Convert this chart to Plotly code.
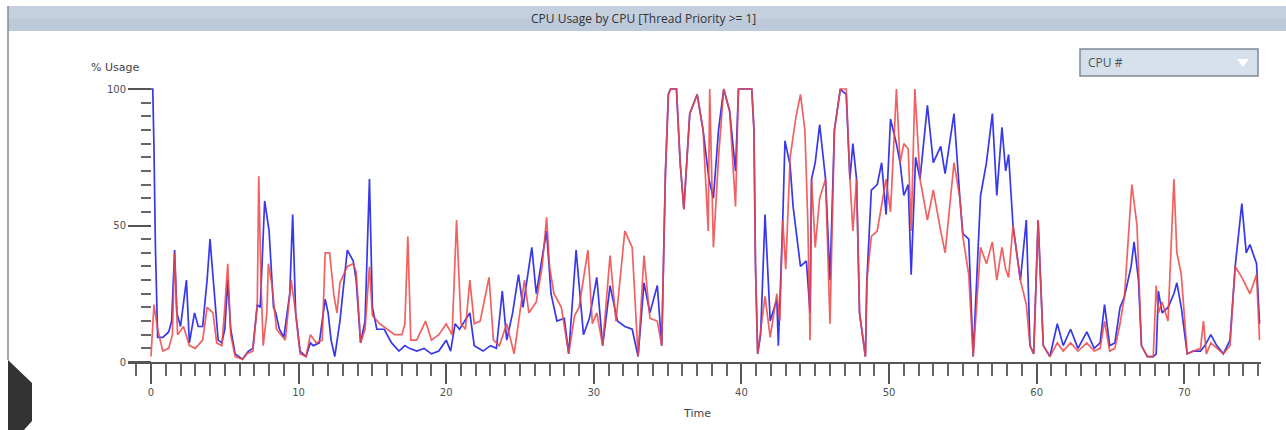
import plotly.graph_objects as go

# ---------------- data ----------------
cpu0_t = [0.0, 0.12, 0.2, 0.3, 0.45, 0.8, 1.2, 1.4, 1.6, 1.75, 2.0, 2.4, 2.6, 2.95, 3.2, 3.5, 3.8, 4.0, 4.1, 4.3,
          4.55, 4.8, 5.0, 5.2, 5.4, 5.7, 6.2, 6.6, 6.9, 7.2, 7.4, 7.7, 8.0, 8.3, 8.45, 8.7, 9.0, 9.4, 9.6, 9.8,
          10.1, 10.5, 10.8, 11.0, 11.4, 11.8, 12.0, 12.2, 12.45, 12.8, 13.3, 13.7, 13.9, 14.2, 14.5, 14.8, 15.0, 15.3, 15.8, 16.3,
          16.8, 17.2, 17.5, 18.0, 18.5, 19.0, 19.5, 20.0, 20.3, 20.6,
          20.9, 21.6, 21.9, 22.5, 23.0, 23.4, 23.8, 24.1, 24.5, 24.9, 25.2, 25.8, 26.1, 26.8, 27.1, 27.5, 28.0, 28.3, 28.8, 29.3,
          29.7, 30.2, 30.6, 31.1, 31.6, 32.1, 32.6, 33.0, 33.4, 33.8, 34.3, 34.6, 34.85, 35.05, 35.2, 35.6, 35.85, 36.1, 36.3, 36.5,
          37.0, 37.4, 37.8, 38.1, 38.45, 38.8, 39.2, 39.6, 39.8, 40.1, 40.7, 40.85, 40.95, 41.1, 41.3,
          41.6, 41.95, 42.4, 42.5, 42.8, 42.95, 43.3, 43.5, 44.0, 44.4, 44.65, 44.75, 45.0, 45.3, 45.7, 46.0, 46.3, 46.7, 47.1, 47.35,
          47.55, 47.8, 48.0, 48.4, 48.5, 48.8, 49.2, 49.5, 49.8, 50.1, 50.5, 50.75, 51.0, 51.3, 51.5, 51.8, 52.1, 52.6, 53.0, 53.5,
          53.8, 54.4, 54.8, 55.0, 55.4, 55.7, 56.2, 56.6, 57.0, 57.3, 57.65, 57.9, 58.1, 58.4, 58.9, 59.3, 59.55, 59.8, 60.1, 60.45,
          60.9, 61.4, 61.8,
          62.3, 62.8, 63.4, 63.9, 64.3, 64.6, 64.95, 65.3, 65.65, 65.95, 66.4, 66.6, 66.9, 67.1, 67.5, 67.9, 68.1, 68.25, 68.5, 68.9,
          69.3, 69.5, 69.8, 70.2, 70.6, 71.1, 71.4, 71.8, 72.2, 72.65, 73.1, 73.45, 73.9, 74.2, 74.45, 74.9, 75.1]
cpu0_v = [100, 100, 79, 42, 9, 9, 11, 15, 41, 18, 13, 30, 7, 18, 13, 13, 30, 45, 38, 24,
          8, 7, 12, 30, 12, 3, 1, 4, 5, 21, 20, 59, 48, 20, 18, 12, 9, 25, 54, 18,
          4, 2, 7, 6, 7, 23, 18, 8, 2, 15, 41, 37, 30, 7, 15, 67, 20, 12, 12, 7,
          4, 6, 5, 4, 5, 3, 4, 8, 4, 14,
          12, 18, 6, 4, 6, 5, 26, 8, 18, 32, 20, 42, 25, 48, 25, 15, 16, 3, 41, 10,
          16, 31, 6, 28, 15, 13, 12, 2, 29, 18, 28, 6, 69, 98, 100, 100, 73, 56, 73, 91,
          98, 85, 67, 60, 85, 100, 92, 70, 100, 100, 100, 85, 36, 3, 10,
          54, 15, 23, 6, 52, 81, 72, 57, 35, 37, 18, 67, 73, 87, 67, 30, 85, 100, 98, 67,
          80, 67, 18, 2, 30, 63, 65, 73, 54, 89, 80, 73, 61, 65, 32, 75, 67, 94, 73, 79,
          69, 91, 60, 47, 45, 2, 61, 73, 91, 61, 86, 70, 76, 50, 30, 52, 6, 3, 52, 6,
          2, 14, 6,
          12, 5, 11, 5, 7, 21, 6, 7, 20, 24, 35, 44, 30, 6, 2, 2, 3, 26, 18, 20,
          25, 29, 20, 3, 4, 4, 6, 10, 6, 3, 8, 35, 58, 40, 43, 36, 14]

cpu1_t = [0.0, 0.2, 0.45, 0.8, 1.2, 1.45, 1.6, 1.8, 2.2, 2.6, 3.0, 3.5, 3.8, 4.2, 4.45, 4.8, 5.0, 5.2, 5.4, 5.7,
          6.2, 6.5, 6.9, 7.2, 7.3, 7.45, 7.6, 7.85, 7.95, 8.2, 8.5, 8.8, 9.1, 9.5, 9.8, 10.1, 10.5, 10.8, 11.2, 11.6,
          11.8, 12.1, 12.4, 12.6, 12.8, 13.3, 13.7, 13.9, 14.2, 14.5, 14.8, 15.0, 15.5, 16.0, 16.5, 17.0, 17.2, 17.4, 17.6, 18.0,
          18.6, 19.0, 19.5, 20.0, 20.4, 20.7,
          21.0, 21.3, 21.6, 21.9, 22.3, 22.9, 23.2, 23.6, 24.1, 24.6, 25.0, 25.3, 25.6, 26.1, 26.5, 26.8, 27.0, 27.3, 27.8, 28.3,
          28.7, 29.0, 29.6, 29.9, 30.2, 30.6, 31.1, 31.5, 32.1, 32.6, 33.0, 33.4, 33.8, 34.3, 34.6, 34.85, 35.05, 35.2, 35.6, 35.85,
          36.1, 36.3, 36.5, 37.0, 37.4, 37.75, 37.85, 38.1, 38.45, 38.8, 39.2, 39.6, 39.8, 40.1, 40.7, 40.85, 40.95, 41.1, 41.3,
          41.6, 41.95, 42.4, 42.6, 42.8, 43.0, 43.3, 43.7, 44.0, 44.3, 44.5, 44.65, 44.75, 45.0, 45.3, 45.7, 46.0, 46.3, 46.7, 47.1,
          47.35, 47.55, 47.8, 48.0, 48.4, 48.5, 48.8, 49.2, 49.5, 49.8, 50.1, 50.5, 50.75, 51.0, 51.3, 51.5, 51.75, 52.1, 52.6, 53.0,
          53.5, 53.8, 54.4, 54.8, 55.0, 55.4, 55.7, 56.2, 56.6, 57.0, 57.3, 57.65, 57.9, 58.1, 58.4, 58.9, 59.3, 59.55, 59.8, 60.1,
          60.45, 60.9, 61.4, 61.8,
          62.3, 62.8, 63.4, 63.9, 64.3, 64.6, 64.95, 65.3, 65.65, 65.95, 66.45, 66.8, 67.1, 67.5, 67.9, 68.1, 68.25, 68.5, 68.9, 69.3,
          69.5, 69.8, 70.2, 70.6, 71.1, 71.3, 71.5, 71.8, 72.2, 72.65, 73.1, 73.45, 73.9, 74.2, 74.45, 74.9, 75.1]
cpu1_v = [2, 21, 12, 4, 5, 10, 40, 10, 13, 6, 5, 8, 20, 18, 7, 6, 20, 36, 10, 2,
          1, 3, 4, 21, 68, 30, 6, 18, 36, 28, 12, 10, 8, 30, 18, 3, 2, 10, 7, 8,
          40, 40, 24, 18, 29, 35, 36, 33, 7, 12, 35, 17, 14, 12, 10, 10, 14, 46, 8, 8,
          15, 8, 10, 14, 10, 52,
          14, 12, 30, 14, 15, 31, 8, 6, 14, 3, 18, 30, 18, 22, 35, 53, 35, 25, 20, 3,
          17, 20, 41, 14, 18, 6, 39, 15, 48, 42, 2, 39, 16, 15, 6, 69, 98, 100, 100, 73,
          56, 73, 91, 98, 85, 48, 100, 42, 75, 100, 92, 57, 100, 100, 100, 85, 36, 3, 12,
          24, 9, 25, 15, 52, 34, 75, 90, 98, 85, 51, 8, 67, 42, 60, 67, 14, 85, 100, 100,
          67, 48, 67, 18, 2, 30, 46, 48, 57, 67, 55, 100, 73, 80, 78, 48, 100, 67, 52, 63,
          48, 40, 73, 60, 46, 32, 2, 42, 36, 44, 30, 42, 34, 31, 50, 30, 21, 6, 3, 52,
          6, 2, 7, 4,
          7, 4, 7, 4, 5, 15, 4, 5, 14, 24, 65, 50, 6, 2, 2, 28, 18, 22, 15, 67,
          40, 32, 3, 4, 5, 15, 3, 7, 5, 3, 6, 35, 31, 28, 25, 32, 8]

x_tick_vals = [0, 10, 20, 30, 40, 50, 60, 70]
y_tick_vals = [0, 50, 100]

# ---------------- geometry helpers (pixel -> paper) ----------------
W, H = 1286, 430
ML, MR, MT, MB = 128, 25, 80, 68
PW = W - ML - MR
PH = H - MT - MB


def px(x):
    return (x - ML) / PW


def py(y):
    return (H - MB - y) / PH


fig = go.Figure()

fig.add_trace(go.Scatter(x=cpu0_t, y=cpu0_v, mode="lines", name="CPU 0",
                         line=dict(color="rgb(55,55,235)", width=1.7)))
fig.add_trace(go.Scatter(x=cpu1_t, y=cpu1_v, mode="lines", name="CPU 1",
                         line=dict(color="rgb(240,70,70)", width=1.7), opacity=0.85))

tick_font = dict(family="DejaVu Sans, sans-serif", size=10, color="#505050")

fig.update_layout(
    width=W, height=H,
    margin=dict(l=ML, r=MR, t=MT, b=MB),
    paper_bgcolor="white", plot_bgcolor="white",
    showlegend=False,
    xaxis=dict(range=[-1.558, 75.2], showgrid=False, zeroline=False,
               showline=True, linecolor="#555555", linewidth=2,
               tickmode="array", tickvals=x_tick_vals, ticks="outside",
               ticklen=20, tickwidth=2, tickcolor="#555555",
               tickfont=tick_font,
               minor=dict(dtick=1, tick0=0, ticks="outside", ticklen=12, tickwidth=2,
                          tickcolor="#666666")),
    yaxis=dict(range=[0, 103.3], showgrid=False, zeroline=False,
               showline=False, anchor="free", position=px(151),
               tickmode="array", tickvals=y_tick_vals, ticks="outside",
               ticklen=23, tickwidth=2, tickcolor="#555555",
               tickfont=tick_font,
               minor=dict(dtick=5, tick0=0, ticks="outside", ticklen=10, tickwidth=2,
                          tickcolor="#666666")),
)

shapes = [
    # title bar
    dict(type="rect", xref="paper", yref="paper", x0=px(8), x1=px(1290), y0=py(31), y1=py(6),
         fillcolor="#c4d0dd", line=dict(width=0), layer="below"),
    dict(type="rect", xref="paper", yref="paper", x0=px(8), x1=px(1290), y0=py(31), y1=py(19),
         fillcolor="#bccadb", line=dict(width=0), layer="below"),
    # left border
    dict(type="line", xref="paper", yref="paper", x0=px(8), x1=px(8), y0=py(360), y1=py(6),
         line=dict(color="#8a8a8a", width=1.5)),
    # dark corner shape
    dict(type="path", xref="paper", yref="paper",
         path=f"M {px(8)} {py(360)} L {px(32)} {py(383)} L {px(32)} {py(421)} L {px(24)} {py(430)} L {px(8)} {py(430)} Z",
         fillcolor="#333333", line=dict(width=0)),
    # dropdown box
    dict(type="rect", xref="paper", yref="paper", x0=px(1080), x1=px(1258), y0=py(76), y1=py(49),
         fillcolor="#d6e0ea", line=dict(color="#7f8a94", width=1.5)),
    dict(type="path", xref="paper", yref="paper",
         path=f"M {px(1237)} {py(59)} L {px(1249)} {py(59)} L {px(1243)} {py(67)} Z",
         fillcolor="white", line=dict(width=0)),
]
fig.update_layout(shapes=shapes)

ann_font = dict(family="DejaVu Sans, sans-serif", size=11, color="#444444")
fig.add_annotation(x=px(643), y=py(19), xref="paper", yref="paper", text="CPU Usage by CPU [Thread Priority >= 1]",
                   showarrow=False, font=dict(family="Open Sans, DejaVu Sans, sans-serif", size=12, color="#333333"),
                   xanchor="center", yanchor="middle")
fig.add_annotation(x=px(115), y=py(68), xref="paper", yref="paper", text="% Usage",
                   showarrow=False, font=ann_font, xanchor="center", yanchor="middle")
fig.add_annotation(x=px(697), y=py(413), xref="paper", yref="paper", text="Time",
                   showarrow=False, font=ann_font, xanchor="center", yanchor="middle")
fig.add_annotation(x=px(1086), y=py(63), xref="paper", yref="paper", text="CPU #",
                   showarrow=False, font=dict(family="Open Sans, DejaVu Sans, sans-serif", size=12, color="#4a5560"),
                   xanchor="left", yanchor="middle")

fig.write_html("out.html")
